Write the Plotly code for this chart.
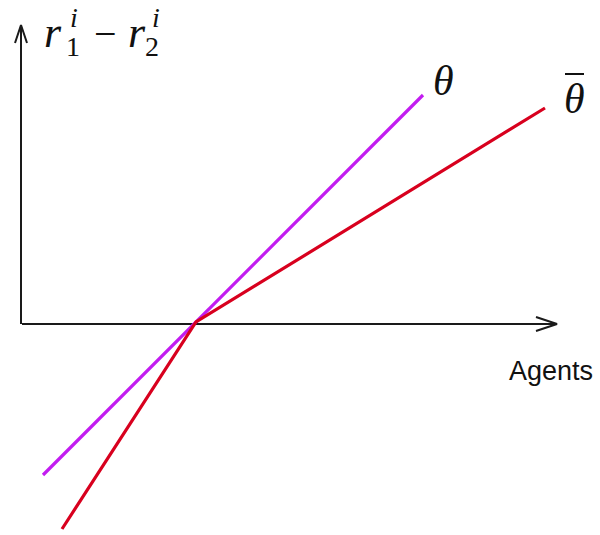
import plotly.graph_objects as go

# Conceptual sketch: reward difference r1 - r2 across agents, origin at the crossing point
theta_x = [-153, 227]
theta_y = [-153, 227]
theta_bar_x = [-134, 0, 349]
theta_bar_y = [-207, 0, 214]

# Axis extents (arrow tips) in the same units
x_axis_from, x_axis_to, x_axis_level = -174, 361, -2
y_axis_from, y_axis_to, y_axis_at = -2, 297, -175

PURPLE = "#C21CF0"
RED = "#D8001E"
INK = "#1a1a1a"

W, H = 600, 535
X_RANGE = [-196, 404]
Y_RANGE = [-213, 322]

fig = go.Figure()

# axes with open chevron arrowheads
fig.add_trace(go.Scatter(
    x=[x_axis_from, x_axis_to], y=[x_axis_level, x_axis_level],
    mode="lines", line=dict(color=INK, width=2), hoverinfo="skip"))
fig.add_trace(go.Scatter(
    x=[x_axis_to - 21, x_axis_to, x_axis_to - 21],
    y=[x_axis_level + 7, x_axis_level, x_axis_level - 7],
    mode="lines", line=dict(color=INK, width=2), hoverinfo="skip"))
fig.add_trace(go.Scatter(
    x=[y_axis_at, y_axis_at], y=[y_axis_from, y_axis_to],
    mode="lines", line=dict(color=INK, width=2), hoverinfo="skip"))
fig.add_trace(go.Scatter(
    x=[y_axis_at - 6, y_axis_at, y_axis_at + 6],
    y=[y_axis_to - 18, y_axis_to, y_axis_to - 18],
    mode="lines", line=dict(color=INK, width=2), hoverinfo="skip"))

# the two response lines
fig.add_trace(go.Scatter(x=theta_x, y=theta_y, mode="lines",
                         line=dict(color=PURPLE, width=3.2), hoverinfo="skip"))
fig.add_trace(go.Scatter(x=theta_bar_x, y=theta_bar_y, mode="lines",
                         line=dict(color=RED, width=3.2), hoverinfo="skip"))

SERIF = "Liberation Serif"


def px(xp, yp):
    """pixel position -> data coordinates"""
    return (X_RANGE[0] + xp * (X_RANGE[1] - X_RANGE[0]) / W,
            Y_RANGE[1] - yp * (Y_RANGE[1] - Y_RANGE[0]) / H)


def label(text, xp, yp, size, family=SERIF, italic=True, color="#111111"):
    x, y = px(xp, yp)
    fig.add_annotation(x=x, y=y, text=f"<i>{text}</i>" if italic else text,
                       showarrow=False, xanchor="center", yanchor="middle",
                       font=dict(family=family, size=size, color=color))


# y-axis title: r_1^i - r_2^i
label("r", 53, 32, 44)
label("i", 74, 17, 28)
label("1", 73, 46, 28, italic=False)
label("\u2212", 105, 33, 40, italic=False)
label("r", 137, 32, 44)
label("i", 156, 17, 28)
label("2", 152, 46, 28, italic=False)

# line labels
label("\u03b8", 443, 81, 42)
label("\u03b8", 574, 99, 42)
# macron over the second theta
x0, y0 = px(565, 74)
x1, y1 = px(584, 74)
fig.add_shape(type="line", x0=x0, y0=y0, x1=x1, y1=y1,
              line=dict(color="#111111", width=2))

# x-axis title
x, y = px(551, 371)
fig.add_annotation(x=x, y=y, text="Agents", showarrow=False,
                   xanchor="center", yanchor="middle",
                   font=dict(family="Liberation Sans", size=27, color="#111111"))

fig.update_layout(
    width=W, height=H,
    margin=dict(l=0, r=0, t=0, b=0),
    paper_bgcolor="white", plot_bgcolor="white",
    showlegend=False,
    xaxis=dict(range=X_RANGE, visible=False, fixedrange=True),
    yaxis=dict(range=Y_RANGE, visible=False, fixedrange=True),
)

fig.write_html("out.html")
